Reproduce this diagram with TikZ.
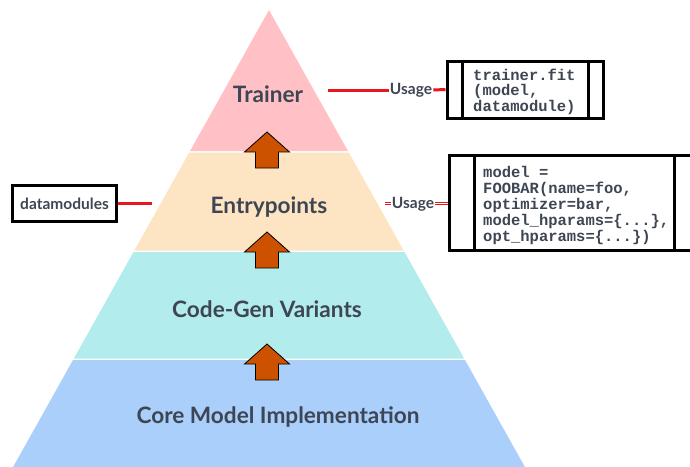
\documentclass[tikz,border=0pt]{standalone}
\usepackage{fontspec}
\setmainfont{Lato}
\newfontfamily\codefont{Liberation Mono}
\usetikzlibrary{calc}
\definecolor{trainerc}{RGB}{255,193,198}
\definecolor{entryc}{RGB}{253,229,196}
\definecolor{codegenc}{RGB}{178,236,236}
\definecolor{corec}{RGB}{169,207,250}
\definecolor{txtc}{RGB}{62,70,84}
\definecolor{redc}{RGB}{232,22,30}
\definecolor{arrc}{RGB}{204,82,0}
\tikzset{
  layertxt/.style={anchor=base, font=\bfseries\fontsize{22.6}{24}\selectfont, text=txtc, inner sep=0pt},
  smalltxt/.style={font=\bfseries\fontsize{15.5}{17}\selectfont, text=txtc, inner sep=1pt},
  codetxt/.style={anchor=north west, align=left, inner sep=0pt, text=txtc,
     font=\codefont\bfseries\fontsize{15.5}{15.8}\selectfont},
  procbox/.style={draw=black, line width=3pt, fill=white, inner sep=0pt},
  redline/.style={draw=redc, line width=3pt},
  reddouble/.style={draw=redc, line width=0.9pt, double=white, double distance=1.3pt},
  uparrow/.style={fill=arrc, draw=black, line width=0.8pt, line join=miter},
}
\newcommand\pyrlayer[3]{% top, bottom, color
  \fill[#3] ({269-0.56*(#1-10)},#1) -- ({269+0.56*(#1-10)},#1) -- ({269+0.56*(#2-10)},#2) -- ({269-0.56*(#2-10)},#2) -- cycle;}
\newcommand\uparr[1]{% tip y
  \draw[uparrow] (267,#1) -- (289.5,#1+20) -- (278.5,#1+20) -- (278.5,#1+36) -- (255.5,#1+36) -- (255.5,#1+20) -- (244.5,#1+20) -- cycle;}
\begin{document}
\begin{tikzpicture}[x=1pt,y=-1pt]
\useasboundingbox (0,0) rectangle (690,466);
\clip (0,0) rectangle (690,466);
% pyramid
\pyrlayer{10}{151}{trainerc}
\pyrlayer{152.5}{250.5}{entryc}
\pyrlayer{252}{358.5}{codegenc}
\pyrlayer{360}{470}{corec}
% arrows
\uparr{132}
\uparr{232}
\uparr{344}
% layer labels
\node[layertxt] (trainer) at (268,102) {Trainer};
\node[layertxt] (entry) at (269,213) {Entrypoints};
\node[layertxt] (codegen) at (267,317) {Code-Gen Variants};
\node[layertxt] (core) at (278,423) {Core Model Implementation};
% trainer usage
\node[procbox, minimum width=156pt, minimum height=57pt] (tbox) at (525,89.5) {};
\draw[line width=3pt] ([xshift=17pt]tbox.north west) -- ([xshift=17pt]tbox.south west);
\draw[line width=3pt] ([xshift=-16pt]tbox.north east) -- ([xshift=-16pt]tbox.south east);
\node[codetxt] (tcode) at (473,68.5) {trainer.fit\\(model,\\datamodule)};
\node[smalltxt] (usage1) at (411,90) {Usage};
\coordinate (tstart) at (328,90);
\draw[redline] (tstart) -- (usage1.west);
\draw[redline] (usage1.east) -- (tbox.west);
% entry usage
\node[procbox, minimum width=251pt, minimum height=95pt] (ebox) at (574.5,202.5) {};
\draw[line width=3pt] ([xshift=27pt]ebox.north west) -- ([xshift=27pt]ebox.south west);
\draw[line width=3pt] ([xshift=-27pt]ebox.north east) -- ([xshift=-27pt]ebox.south east);
\node[codetxt] (ecode) at (483,166.5) {model =\\FOOBAR(name=foo,\\optimizer=bar,\\model\_hparams=\{...\},\\opt\_hparams=\{...\})};
\node[smalltxt] (usage2) at (413,204) {Usage};
\coordinate (estart) at (385,203.5);
\draw[reddouble] (estart) -- (usage2.west |- estart);
\draw[reddouble] (usage2.east |- estart) -- (ebox.west |- estart);
% datamodules
\node[draw=black, line width=3pt, fill=white, minimum width=104pt, minimum height=36pt, inner sep=0pt, text=txtc,
  font=\bfseries\fontsize{15.5}{17}\selectfont] (dm) at (64.5,203.5) {datamodules};
\coordinate (dmend) at (152,203.5);
\draw[redline] (dm.east) -- (dmend);
\end{tikzpicture}
\end{document}
